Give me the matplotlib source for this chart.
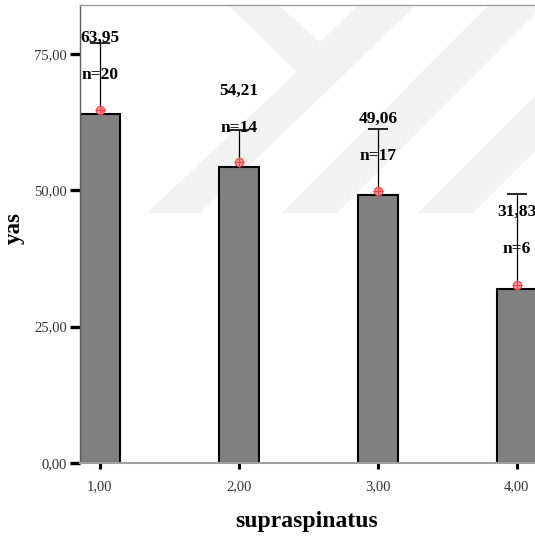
import matplotlib
matplotlib.use('Agg')
import matplotlib.pyplot as plt
from matplotlib.patches import Polygon

plt.rcParams['font.family'] = ['Liberation Serif', 'DejaVu Serif']

# values
groups = [1, 2, 3, 4]
tick_labels = ['1,00', '2,00', '3,00', '4,00']
means = [63.95, 54.21, 49.06, 31.83]
counts = [20, 14, 17, 6]
marker_y = [64.8, 55.1, 49.9, 32.6]
err_top = [77.0, 61.1, 61.3, 49.3]

# label placement (layout only)
mean_label_y = [77.9, 68.3, 63.0, 46.0]
n_label_gap = 6.8

W, H = 535, 539
fig = plt.figure(figsize=(W / 100, H / 100), dpi=100)
ax = fig.add_axes([79.5 / W, 1 - 463 / H, 1 - 79.5 / W, (463 - 4.8) / H])


def px(x, y):
    return (x / W, 1 - y / H)


# faint watermark stripes in the background
wm = '#f2f2f2'
ypts = [(147, 213), (200, 213), (417, 4), (360, 4), (320, 42), (277, 4), (227, 4), (297, 72)]
stripes = [ypts,
           [(282, 213), (337, 213), (545, 4), (490, 4)],
           [(418, 213), (473, 213), (682, 4), (627, 4)]]
for s in stripes:
    ax.add_patch(Polygon([px(*p) for p in s], closed=True, facecolor=wm,
                         edgecolor='none', transform=fig.transFigure, zorder=0))

ax.bar(groups, means, width=0.288, color='#808080', edgecolor='black',
       linewidth=1.5, zorder=2)

# upper error whiskers with a cap only at the top
ax.vlines(groups, marker_y, err_top, color='black', linewidth=0.9, zorder=3)
ax.plot(groups, err_top, '_', ms=14, mew=1.2, color='black', zorder=3)

ax.plot(groups, marker_y, 'o', ms=6, mfc='#ff9a9a', mec='#ff4040', mew=0.8, zorder=4)
ax.plot(groups, marker_y, '+', ms=7, color='#ff4040', mew=0.8, zorder=5)

for g, m, n, ly in zip(groups, means, counts, mean_label_y):
    ax.text(g, ly, f'{m:.2f}'.replace('.', ','), ha='center', va='center',
            fontsize=12.5, fontweight='bold', zorder=6)
    ax.text(g, ly - n_label_gap, f'n={n}', ha='center', va='center',
            fontsize=12.5, fontweight='bold', zorder=6)

ax.set_xlim(0.853, 4.13)
ax.set_ylim(0, 84.0)
ax.set_xticks(groups)
ax.set_xticklabels(tick_labels)
ax.set_yticks([0, 25, 50, 75])
ax.set_yticklabels(['0,00', '25,00', '50,00', '75,00'])
ax.tick_params(axis='y', length=7.2, width=2.4, color='black', pad=2,
               labelsize=10.5, labelcolor='#333333')
ax.tick_params(axis='x', length=4.3, width=2.2, color='black', pad=8,
               labelsize=10.5, labelcolor='#333333')

ax.spines['right'].set_visible(False)
ax.spines['left'].set_color('#606060')
ax.spines['left'].set_linewidth(1.0)
ax.spines['top'].set_color('#a0a0a0')
ax.spines['top'].set_linewidth(1.0)
ax.spines['bottom'].set_color('#a0a0a0')
ax.spines['bottom'].set_linewidth(1.5)

fig.text(307 / W, 1 - 522 / H, 'supraspinatus', ha='center', va='center',
         fontsize=17, fontweight='bold')
fig.text(14 / W, 1 - 228 / H, 'yas', ha='center', va='center', rotation=90,
         fontsize=16.5, fontweight='bold')

fig.savefig('out.png', dpi=100)
